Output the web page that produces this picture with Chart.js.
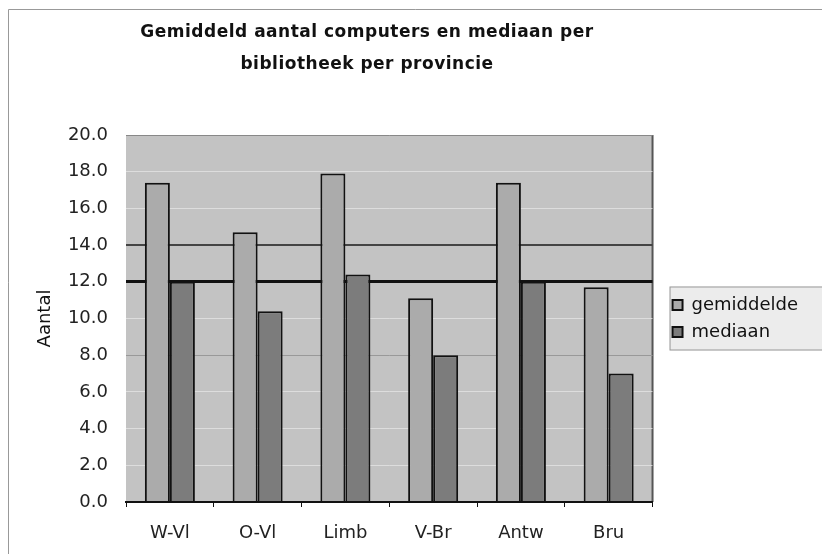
<!DOCTYPE html>
<html>
<head>
<meta charset="utf-8">
<script src="https://cdn.jsdelivr.net/npm/chart.js@4.4.1/dist/chart.umd.min.js"></script>
<style>
  html, body { margin: 0; padding: 0; background: #fff; }
  #wrap { width: 822px; height: 554px; }
</style>
</head>
<body>
<div id="wrap"><canvas id="chart" width="822" height="554"></canvas></div>
<script>
const provinces = ['W-Vl', 'O-Vl', 'Limb', 'V-Br', 'Antw', 'Bru'];
const gemiddelde = [17.4, 14.7, 17.9, 11.1, 17.4, 11.7];
const mediaan = [12.0, 10.4, 12.4, 8.0, 12.0, 7.0];
const titleLines = ['Gemiddeld aantal computers en mediaan per', 'bibliotheek per provincie'];

const FONT = "'DejaVu Sans', 'Liberation Sans', sans-serif";

// grey plot area, frame, legend box and title
const decor = {
  id: 'decor',
  beforeDraw(chart) {
    const { ctx, chartArea: a } = chart;
    ctx.save();
    ctx.strokeStyle = '#999';
    ctx.lineWidth = 1;
    ctx.beginPath();
    ctx.moveTo(8.5, 560); ctx.lineTo(8.5, 9.5); ctx.lineTo(830, 9.5);
    ctx.stroke();

    ctx.fillStyle = '#c3c3c3';
    ctx.fillRect(a.left, a.top, a.right - a.left, a.bottom - a.top);
    ctx.strokeStyle = '#555';
    ctx.lineWidth = 2;
    ctx.beginPath();
    ctx.moveTo(a.right, a.bottom); ctx.lineTo(a.right, a.top);
    ctx.stroke();

    const lg = chart.legend;
    if (lg) {
      const cy = (a.top + a.bottom) / 2;
      ctx.fillStyle = '#ececec';
      ctx.fillRect(lg.left + 6, cy - 32, 300, 64);
      ctx.strokeStyle = '#999';
      ctx.lineWidth = 1;
      ctx.strokeRect(lg.left + 6.5, cy - 31.5, 300, 63);
    }
    ctx.restore();
  },
  afterLayout(chart) {
    const lg = chart.legend;
    if (lg) { lg.left += 11; lg.right += 11; }
  },
  afterDraw(chart) {
    const ctx = chart.ctx;
    ctx.save();
    ctx.font = 'bold 17px ' + FONT;
    ctx.fillStyle = '#111';
    ctx.textAlign = 'center';
    ctx.textBaseline = 'alphabetic';
    if ('letterSpacing' in ctx) ctx.letterSpacing = '0.5px';
    ctx.fillText(titleLines[0], 367, 37);
    ctx.fillText(titleLines[1], 367, 69);
    ctx.restore();
  }
};

function gridColor(c) {
  const v = c.tick && c.tick.value;
  if (v === 12) return '#111';
  if (v === 14) return '#444';
  if (v === 8) return '#999';
  if (v === 20) return '#888';
  if (v === 0) return '#111';
  return 'rgba(228,228,228,0.8)';
}
function gridWidth(c) {
  const v = c.tick && c.tick.value;
  if (v === 12) return 3;
  if (v === 14 || v === 0) return 2;
  return 1;
}

new Chart(document.getElementById('chart'), {
  type: 'bar',
  data: {
    labels: provinces,
    datasets: [
      {
        label: 'gemiddelde',
        data: gemiddelde,
        backgroundColor: '#ababab',
        borderColor: '#111',
        borderWidth: 2,
        categoryPercentage: 0.57,
        barPercentage: 1
      },
      {
        label: 'mediaan',
        data: mediaan,
        backgroundColor: '#7c7c7c',
        borderColor: '#111',
        borderWidth: 2,
        categoryPercentage: 0.57,
        barPercentage: 1
      }
    ]
  },
  options: {
    responsive: false,
    animation: false,
    layout: { padding: { top: 135, left: 8, right: 25, bottom: 0 } },
    plugins: {
      title: { display: false },
      tooltip: { enabled: false },
      legend: {
        position: 'right',
        fullSize: false,
        labels: {
          font: { family: FONT, size: 18 },
          color: '#111',
          boxWidth: 10,
          boxHeight: 10,
          padding: 9
        }
      }
    },
    scales: {
      x: {
        grid: { drawOnChartArea: false, drawTicks: true, tickLength: 5, color: '#111' },
        border: { color: '#111', width: 2 },
        ticks: { font: { family: FONT, size: 18 }, color: '#222', padding: 16, maxRotation: 0 },
        afterFit(s) { s.height = 52; }
      },
      y: {
        min: 0,
        max: 20,
        ticks: {
          stepSize: 2,
          font: { family: FONT, size: 18 },
          color: '#222',
          padding: 18,
          callback: v => v.toFixed(1)
        },
        grid: { drawTicks: false, color: gridColor, lineWidth: gridWidth },
        border: { display: false },
        title: {
          display: true,
          text: 'Aantal',
          font: { family: FONT, size: 18 },
          color: '#111',
          padding: { top: 27, bottom: 0 }
        },
        afterFit(s) { s.width = 118; }
      }
    }
  },
  plugins: [decor]
});
</script>
</body>
</html>
